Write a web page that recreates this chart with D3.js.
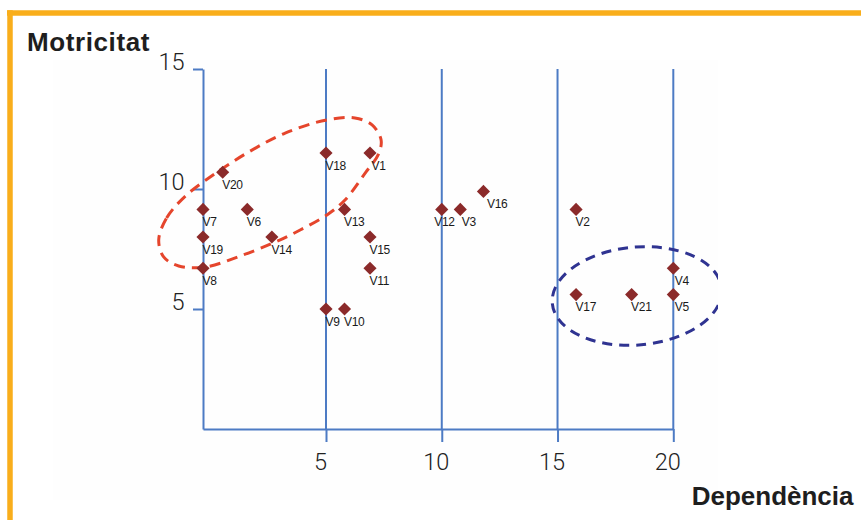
<!DOCTYPE html>
<html><head><meta charset="utf-8">
<script src="https://cdn.jsdelivr.net/npm/d3@7"></script>
<style>
html,body{margin:0;padding:0;background:#fff;}
svg{display:block;}
</style></head>
<body><svg id="chart" width="861" height="520"></svg>
<script>
// ---- data ----
const pointLabels = ["V1","V2","V3","V4","V5","V6","V7","V8","V9","V10","V11","V12","V13","V14","V15","V16","V17","V18","V19","V20","V21"];
const dependencia = [6.9,15.8,10.8,20,20,1.8,0,0,5,5.8,6.9,10,5.8,2.8,6.9,11.8,15.8,5,0,0.8,18.2];
const motricitat  = [11.5,9.15,9.15,6.7,5.6,9.15,9.15,6.7,5,5,6.7,9.15,9.15,8,8,9.9,5.6,11.5,8,10.7,5.6];
const xTicks = [5,10,15,20];
const yTicks = [5,10,15];
const xTitle = "Dependència";
const yTitle = "Motricitat";
// hand-drawn red group outline (data units)
const redGroupX = [-1.8,-1.48,-0.71,0.59,1.92,3.34,5.04,6.25,6.99,7.38,7.25,6.73,5.82,5.04,3.95,2.85,1.52,0.1,-0.99,-1.6];
const redGroupY = [7.88,8.79,9.71,10.71,11.58,12.33,12.88,12.96,12.67,12.04,11.42,10.71,9.54,8.92,8.29,7.75,7.21,6.75,6.79,7.17];
// blue group ellipse (data units): centre x, centre y, radius x, radius y
const blueGroup = [18.43, 5.54, 3.67, 2.04];

// ---- drawing ----
const svg = d3.select("#chart");
const blue = "#4d7bc4", pointColor = "#8b2a2a";
// label nudges (layout only)
const labelDx = {V12: -7, V16: 4, V3: 2, V1: 2, V4: 2, V5: 2};

// frame
svg.append("rect").attr("x",0).attr("y",0).attr("width",861).attr("height",520).attr("fill","#fff");
svg.append("rect").attr("x",53).attr("y",60).attr("width",665).attr("height",440).attr("fill","#fefefe");
svg.append("line").attr("x1",7).attr("x2",861).attr("y1",13).attr("y2",13).attr("stroke","#f9ae1b").attr("stroke-width",5.5);
svg.append("line").attr("x1",10).attr("x2",10).attr("y1",10.3).attr("y2",520).attr("stroke","#f9ae1b").attr("stroke-width",5.5);

svg.append("defs").append("clipPath").attr("id","imgclip")
  .append("rect").attr("x",53).attr("y",60).attr("width",665).attr("height",440);

const x = d3.scaleLinear().domain([0,5,20]).range([203,326,673.3]);
const y = d3.scaleLinear().domain([0,15]).range([429,69]);

// vertical lines
svg.append("g").selectAll("line").data(xTicks).join("line")
  .attr("x1",d=>x(d)).attr("x2",d=>x(d)).attr("y1",y(15)).attr("y2",y(0))
  .attr("stroke",blue).attr("stroke-width",2);

const tickFont = "Roboto, 'Open Sans', 'Liberation Sans', sans-serif";
// x axis
const gx = svg.append("g").attr("transform",`translate(0,${y(0)})`)
  .call(d3.axisBottom(x).tickValues(xTicks).tickSize(13).tickSizeOuter(0));
gx.select(".domain").attr("stroke",blue).attr("stroke-width",2);
gx.selectAll(".tick line").attr("stroke",blue).attr("stroke-width",2);
gx.selectAll(".tick text").attr("y",24).attr("dy","0.71em").attr("dx",-6)
  .attr("fill","#222").style("font-family",tickFont).style("font-weight",300).style("font-size","23.5px");

// y axis
const gy = svg.append("g").attr("transform",`translate(${x(0)},0)`)
  .call(d3.axisLeft(y).tickValues(yTicks).tickSize(10).tickSizeOuter(0));
gy.select(".domain").attr("stroke",blue).attr("stroke-width",2);
gy.selectAll(".tick line").attr("stroke",blue).attr("stroke-width",2);
gy.selectAll(".tick text").attr("x",-18.5).attr("dy","0.02em")
  .attr("fill","#222").style("font-family",tickFont).style("font-weight",300).style("font-size","23.5px");

// titles
svg.append("text").attr("x",27).attr("y",50.7).text(yTitle)
  .style("font-family","'Liberation Sans', Arial, sans-serif").style("font-weight","bold")
  .style("font-size","26px").style("letter-spacing","0.6px").attr("fill","#1e1e1e");
svg.append("text").attr("x",853.5).attr("y",505).attr("text-anchor","end").text(xTitle)
  .style("font-family","'Liberation Sans', Arial, sans-serif").style("font-weight","bold")
  .style("font-size","26px").attr("fill","#1e1e1e");

// red group outline
const redPts = redGroupX.map((d,i)=>[x(d), y(redGroupY[i])]);
svg.append("path").attr("d", d3.line().curve(d3.curveCatmullRomClosed)(redPts))
  .attr("fill","none").attr("stroke","#e5452c").attr("stroke-width",3).attr("stroke-dasharray","11,7");

// blue group ellipse
const bcx = x(blueGroup[0]), bcy = y(blueGroup[1]);
svg.append("g").attr("clip-path","url(#imgclip)")
  .append("ellipse").attr("cx",bcx).attr("cy",bcy)
  .attr("rx", x(blueGroup[0]+blueGroup[2]) - bcx).attr("ry", bcy - y(blueGroup[1]+blueGroup[3]))
  .attr("transform",`rotate(-5,${bcx},${bcy})`)
  .attr("fill","none").attr("stroke","#2f3391").attr("stroke-width",3).attr("stroke-dasharray","10,7");

// points
const pts = svg.append("g").selectAll("g").data(pointLabels).join("g")
  .attr("transform",(d,i)=>`translate(${x(dependencia[i])},${y(motricitat[i])})`);
pts.append("path").attr("d", d3.symbol(d3.symbolSquare, 86)())
  .attr("transform","rotate(45)").attr("fill",pointColor);
pts.append("text").attr("x",d=>(labelDx[d] ?? 0) - 0.5).attr("y",16.5).text(d=>d)
  .style("font-family","'Liberation Sans', Arial, sans-serif").style("font-size","12px")
  .style("letter-spacing","-0.3px").attr("fill","#1a1a1a");
</script></body></html>
